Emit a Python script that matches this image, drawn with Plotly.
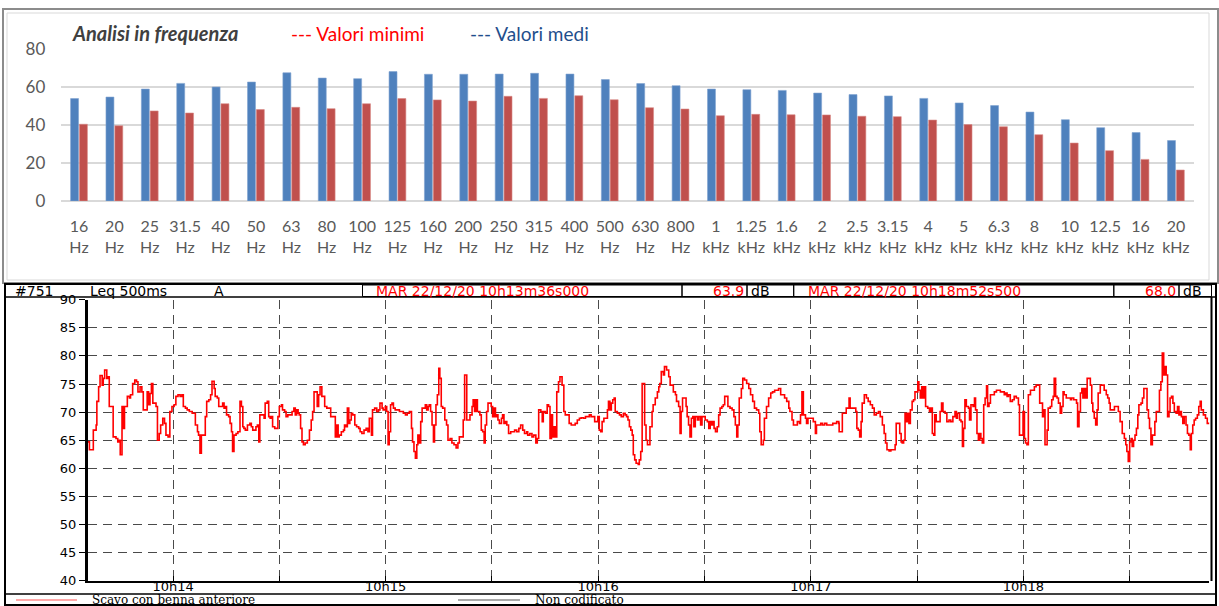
import plotly.graph_objects as go
from datetime import datetime, timedelta

# ---------------- data: frequency analysis ----------------
freq_values = ["16", "20", "25", "31.5", "40", "50", "63", "80", "100", "125", "160", "200",
               "250", "315", "400", "500", "630", "800", "1", "1.25", "1.6", "2", "2.5", "3.15",
               "4", "5", "6.3", "8", "10", "12.5", "16", "20"]
freq_units = ["Hz"] * 18 + ["kHz"] * 14
valori_medi = [53.9, 54.7, 58.9, 61.9, 60.0, 62.6, 67.5, 64.7, 64.4, 68.1, 66.7, 66.7,
               66.8, 67.2, 66.8, 63.9, 61.8, 60.7, 58.9, 58.6, 58.2, 56.8, 56.0, 55.3,
               54.0, 51.6, 50.2, 46.8, 42.8, 38.6, 36.0, 31.8]
valori_minimi = [40.4, 39.6, 47.4, 46.3, 51.2, 48.1, 49.3, 48.6, 51.2, 53.9, 53.2, 52.6,
                 55.1, 54.0, 55.4, 53.3, 49.1, 48.4, 44.9, 45.6, 45.4, 45.3, 44.6, 44.4,
                 42.6, 40.2, 39.1, 34.9, 30.5, 26.5, 21.9, 16.3]
y_ticks_top = [0, 20, 40, 60, 80]

# ---------------- data: Leq 500ms time history ----------------
start_time = "2020-12-22 10:13:36"
duration_s = 316.5
t_sec = [
    0.0, 0.4, 1.3, 1.5, 2.3, 2.5, 3.0, 3.4, 4.0, 4.3, 4.7, 5.3, 5.6, 6.0, 6.8, 7.1, 7.9, 8.4, 8.8, 9.1,
    9.6, 10.0, 10.3, 10.7, 11.1, 11.7, 12.0, 12.6, 13.2, 13.7, 14.1, 14.7, 15.2, 15.6, 16.2, 16.7, 17.1,
    17.5, 17.9, 18.3, 18.8, 19.2, 19.6, 20.1, 20.5, 21.1, 21.6, 22.0, 22.6, 23.1, 23.7, 24.3, 24.8, 25.4,
    26.0, 26.5, 26.9, 27.5, 28.0, 28.6, 29.4, 29.7, 30.3, 30.9, 31.2, 31.6, 32.0, 32.5, 33.1, 33.5, 34.1,
    34.6, 35.0, 35.6, 35.9, 36.5, 36.9, 37.4, 38.0, 38.4, 38.8, 39.1, 39.7, 40.1, 40.5, 40.8, 41.2, 41.8,
    42.3, 42.9, 43.3, 43.7, 44.0, 44.4, 45.0, 45.3, 45.7, 46.1, 46.5, 47.0, 47.4, 47.8, 48.2, 48.5, 49.1,
    49.7, 50.0, 50.6, 51.0, 51.4, 51.7, 52.1, 52.7, 53.2, 53.6, 54.0, 54.6, 54.9, 55.5, 55.9, 56.4, 57.0,
    57.6, 58.1, 58.5, 58.9, 59.3, 59.6, 60.0, 60.4, 60.8, 61.3, 61.9, 62.5, 63.0, 63.4, 63.8, 64.3, 64.7,
    65.1, 65.5, 66.0, 66.4, 66.8, 67.4, 67.9, 68.5, 69.1, 69.4, 69.8, 70.2, 70.6, 70.9, 71.5, 72.1, 72.4,
    72.8, 73.2, 73.6, 73.9, 74.3, 74.7, 75.3, 75.8, 76.4, 76.8, 77.3, 77.9, 78.5, 79.0, 79.4, 80.0, 80.3,
    80.9, 81.5, 82.0, 82.4, 83.0, 83.3, 83.9, 84.3, 84.7, 85.0, 85.4, 85.8, 86.2, 86.7, 87.3, 87.9, 88.4,
    89.0, 89.6, 90.1, 90.7, 91.3, 91.6, 92.0, 92.4, 92.8, 93.1, 93.5, 93.9, 94.3, 94.8, 95.2, 95.6, 96.0,
    96.3, 96.7, 97.1, 97.5, 97.8, 98.2, 98.6, 99.0, 99.3, 99.7, 100.1, 100.7, 101.2, 101.6, 102.2, 102.7,
    103.3, 103.9, 104.4, 104.8, 105.4, 105.9, 106.3,
    106.9, 107.4, 107.8, 108.4, 108.7, 109.1, 109.5, 109.9, 110.3, 110.6, 111.0, 111.4, 111.8, 112.1,
    112.5, 112.9, 113.5, 113.8, 114.2, 114.6, 115.0, 115.3, 115.7, 116.1, 116.7, 117.0, 117.4, 117.8,
    118.2, 118.7, 119.3, 119.9, 120.4, 121.0, 121.6, 122.1, 122.7, 123.2, 123.8, 124.1, 124.7, 125.3,
    125.8, 126.4, 126.8, 127.2, 127.8, 128.2, 128.5, 129.1, 129.6, 130.0, 130.4, 130.8, 131.1, 131.5,
    131.9, 132.3, 132.8, 133.2, 133.8, 134.3, 134.7, 135.3, 135.8, 136.4, 137.0, 137.5, 138.1, 138.7,
    139.2, 139.8, 140.4, 140.9, 141.5, 142.0, 142.6, 143.0, 143.6, 143.9, 144.3, 144.7, 145.1, 145.6,
    146.2, 146.6, 146.9, 147.3, 147.7, 148.1, 148.5, 148.8, 149.4, 150.0, 150.5, 151.1, 151.6, 152.0,
    152.4, 152.8, 153.2, 153.6, 153.9, 154.3, 154.7, 155.3, 155.6, 156.0, 156.4, 156.7, 157.1, 157.5,
    157.9, 158.3, 158.6, 159.2, 159.5, 160.1, 160.7, 161.1, 161.4, 161.8, 162.4, 162.7, 163.3, 163.9,
    164.3, 164.8, 165.2, 165.8, 166.1, 166.7, 167.1, 167.4, 167.8, 168.4, 168.8, 169.1, 169.5, 169.9,
    170.3, 170.7, 171.0, 171.4, 172.0, 172.4, 172.9, 173.3, 173.9, 174.2, 174.8, 175.2, 175.6, 175.9,
    176.3, 176.7, 177.1, 177.6, 178.0, 178.4, 178.9, 179.3, 179.7, 180.3, 180.6, 181.2, 181.8, 182.3,
    182.7, 183.1, 183.4, 183.8, 184.4, 184.8, 185.3, 185.9, 186.5, 187.0, 187.6, 188.1, 188.7, 189.3,
    189.6, 190.0, 190.6, 190.9, 191.5, 192.1, 192.7, 193.2, 193.8, 194.4, 194.9, 195.5, 196.1, 196.6,
    197.2, 197.8, 198.1, 198.7, 199.1, 199.6, 200.2, 200.8, 201.1, 201.5, 201.9, 202.5, 202.8, 203.2,
    203.8, 204.3, 204.7, 205.3, 205.6, 206.2, 206.8, 207.3, 207.9, 208.5, 209.0, 209.6, 210.2, 210.7,
    211.3, 211.9,
    212.0, 212.5, 212.9, 213.5, 214.0, 214.4, 214.8, 215.1, 215.7, 216.3, 216.7, 217.0, 217.4, 217.8,
    218.2, 218.5, 219.1, 219.7, 220.2, 220.8, 221.4, 221.9, 222.5, 223.1, 223.6, 224.2, 224.7, 225.1,
    225.5, 226.1, 226.6, 227.2, 227.8, 228.1, 228.5, 229.1, 229.5, 229.8, 230.2, 230.6, 231.0, 231.3,
    231.7, 232.1, 232.6, 233.0, 233.4, 233.8, 234.2, 234.5, 234.9, 235.3, 235.7, 236.0, 236.4, 237.0,
    237.5, 237.9, 238.3, 238.7, 239.0, 239.4, 240.0, 240.5, 240.9, 241.3, 241.9, 242.4, 243.0, 243.5,
    244.1, 244.7, 245.1, 245.4, 246.0, 246.4, 246.8, 247.1, 247.5, 247.9, 248.5, 248.8, 249.2, 249.8,
    250.2, 250.5, 250.9, 251.3, 251.7, 252.0, 252.4, 252.8, 253.2, 253.6, 253.9, 254.3, 254.7, 255.2,
    255.8, 256.4, 256.9, 257.5, 258.0, 258.6, 259.0, 259.4, 259.8, 260.3, 260.9, 261.4, 262.0, 262.6,
    262.9, 263.5, 263.9, 264.3, 264.6, 265.0, 265.4, 266.0, 266.5, 267.1, 267.6, 268.2, 268.6, 269.0,
    269.4, 269.7, 270.1, 270.7, 271.0, 271.6, 272.0, 272.4, 272.7, 273.1, 273.5, 273.9, 274.4, 274.8,
    275.2, 275.5, 276.1, 276.7, 277.3, 277.6, 278.2, 278.6, 279.0, 279.3, 279.7, 280.1, 280.5, 280.8,
    281.2, 281.6, 282.0, 282.5, 282.9, 283.3, 283.6, 284.0, 284.4, 284.8, 285.1, 285.7, 286.3, 286.8,
    287.4, 287.8, 288.2, 288.5, 289.1, 289.7, 290.2, 290.8, 291.3, 291.9, 292.5, 292.9, 293.2, 293.6,
    294.0, 294.4, 294.7, 295.1, 295.5, 295.9, 296.3, 296.6, 297.2, 297.6, 298.0, 298.5, 298.9, 299.3,
    299.6, 300.0, 300.4, 300.8, 301.1, 301.5, 302.1, 302.4, 302.8, 303.2, 303.6, 303.9, 304.3, 304.7,
    305.1, 305.4, 305.8, 306.2, 306.6, 307.1, 307.5, 307.9, 308.2, 308.6, 309.0, 309.4, 309.9, 310.3,
    310.7, 311.1, 311.4, 311.8, 312.2, 312.6, 313.1, 313.5, 313.9, 314.2, 314.8, 315.4, 315.9, 316.5,
]
leq_db = [
    64.7, 63.3, 63.3, 66.8, 67.7, 71.9, 74.5, 76.5, 74.8, 76.0, 77.5, 76.0, 76.3, 71.0, 71.0, 65.6, 65.3, 64.7, 65.0, 62.4,
    71.0, 67.1, 71.0, 71.0, 72.8, 72.5, 73.1, 75.1, 75.7, 75.4, 73.6, 74.5, 73.6, 70.4, 70.4, 73.6, 71.3,
    73.3, 75.1, 71.6, 71.6, 71.0, 65.0, 66.2, 67.7, 68.9, 68.0, 65.9, 65.6, 70.1, 71.0, 71.3, 72.8, 73.1,
    72.8, 73.1, 71.0, 70.7, 70.4, 70.1, 69.8, 69.8, 67.7, 66.5, 65.9, 62.7, 65.9, 65.9, 69.2, 71.9, 72.2,
    73.1, 75.5, 74.2, 72.8, 72.5, 71.0, 71.0, 71.6, 70.7, 71.0, 69.5, 69.2, 68.0, 66.5, 63.0, 65.9, 66.2,
    66.5, 71.9, 71.0, 67.4, 67.1, 66.8, 67.7, 67.7, 68.0, 67.4, 66.8, 66.8, 67.4, 67.7, 64.7, 69.5, 69.5,
    68.9, 71.6, 71.9, 69.2, 68.9, 69.2, 67.4, 67.1, 67.1, 69.2, 71.0, 71.3, 70.4, 70.1, 69.2, 69.5, 69.5,
    70.1, 70.7, 69.5, 70.4, 69.8, 69.5, 67.1, 64.7, 64.2, 64.5, 65.0, 66.8, 68.6, 70.1, 73.6, 73.6, 71.0,
    73.1, 74.5, 72.8, 72.8, 71.0, 70.7, 70.7, 69.2, 69.2, 69.2, 65.6, 67.7, 65.6, 65.9, 66.5, 66.8, 67.7,
    67.4, 70.7, 68.0, 68.6, 69.8, 69.5, 67.7, 67.4, 67.1, 66.5, 66.2, 66.8, 67.1, 66.5, 68.9, 65.9, 70.4,
    70.7, 70.1, 70.4, 71.6, 70.7, 70.4, 71.0, 70.1, 64.2, 66.5, 71.3, 71.6, 70.7, 70.4, 70.4, 70.1, 70.1,
    69.8, 69.5, 69.8, 70.1, 67.1, 64.7, 63.0, 61.8, 64.2, 65.9, 64.5, 68.3, 70.7, 70.7, 71.3, 70.4, 71.0,
    71.3, 70.1, 67.7, 64.7, 67.7, 71.3, 73.1, 77.8, 76.0, 71.0, 70.7, 68.6, 67.7, 65.0, 65.3, 64.5,
    64.2, 63.6, 64.5, 65.6, 65.6, 68.6, 76.6,
    68.6, 68.6, 69.5, 71.0, 72.2, 70.1, 72.2, 70.1, 70.1, 69.5, 66.8, 66.5, 64.5, 67.7,
    70.1, 71.6, 71.6, 71.0, 69.2, 70.7, 69.2, 69.5, 68.6, 68.0, 68.9, 69.5, 68.0, 68.3,
    67.7, 66.2, 66.5, 66.5, 66.8, 66.5, 67.1, 67.7, 66.8, 66.2, 66.5, 65.9, 66.2, 65.6,
    65.9, 64.5, 65.3, 70.4, 70.1, 68.3, 70.1, 69.8, 71.3, 71.0, 65.3, 69.5, 65.6, 67.4,
    65.6, 73.6, 75.4, 76.3, 74.8, 70.1, 69.5, 69.5, 68.0, 67.7, 67.7, 68.0, 68.6, 68.9,
    69.0, 68.9, 69.2, 69.2, 69.5, 69.2, 69.2, 68.3, 68.3, 69.2, 66.8, 66.5, 68.3, 68.9,
    68.9, 70.4, 71.9, 70.4, 71.6, 72.2, 72.5, 70.1, 69.8, 69.5, 69.2, 69.8, 69.5, 69.2,
    68.6, 67.4, 66.8, 65.9, 62.4, 61.5, 60.9, 60.7, 61.5, 63.0, 75.1, 75.1, 67.7, 65.0,
    64.2, 64.2, 67.4, 70.1, 71.3, 72.5, 73.6, 74.5, 75.1, 77.2, 76.6, 78.1, 77.5, 76.3,
    74.8, 74.8, 73.6, 73.1, 71.9, 71.0, 66.2, 70.1, 72.5, 72.5, 71.0, 69.2, 67.7, 65.6,
    68.9, 69.2, 67.4, 69.2, 68.6, 69.2, 67.7, 69.2, 69.2, 68.6, 68.3, 67.1, 68.3, 67.7,
    68.3, 67.1, 66.5, 67.4, 69.5, 70.7, 71.0, 71.3, 72.8, 72.8, 71.0, 70.7, 70.4, 69.2,
    67.7, 65.6, 67.7, 72.5, 74.2, 76.0, 75.7, 75.1, 74.2, 73.1, 71.9, 70.7, 70.4, 69.8,
    66.5, 64.2, 65.0, 68.9, 71.0, 72.5, 73.4, 73.6, 73.9, 73.9, 74.2, 73.1, 73.1, 72.5,
    71.9, 70.7, 70.1, 68.6, 67.7, 67.7, 68.3, 68.0, 69.5, 73.6, 69.5, 68.9, 68.0, 68.9,
    68.9, 68.9, 68.3, 66.2, 67.7, 67.7, 68.0, 67.7, 68.0, 67.7, 67.7, 67.7, 68.0, 68.0,
    68.3, 68.0,
    66.5, 66.5, 69.8, 69.8, 70.7, 70.7, 72.5, 70.7, 70.7, 70.7, 70.1, 67.1, 66.8, 65.6,
    68.3, 71.6, 73.1, 72.5, 71.9, 71.3, 70.7, 69.5, 69.8, 70.1, 69.2, 67.7, 66.2, 64.5,
    63.3, 63.1, 63.3, 63.3, 64.2, 68.0, 68.0, 66.2, 64.7, 64.5, 65.0, 69.8, 68.3, 69.8,
    68.0, 70.4, 71.9, 72.2, 73.6, 73.6, 75.4, 73.9, 72.5, 74.5, 72.5, 74.5, 71.0, 70.7,
    70.1, 70.7, 66.2, 65.9, 69.5, 68.3, 68.3, 70.1, 71.6, 70.1, 69.8, 68.3, 68.6, 68.3,
    69.2, 70.1, 68.9, 69.8, 68.6, 68.3, 63.9, 67.1, 72.2, 71.0, 70.7, 68.6, 71.3, 71.0,
    72.5, 70.4, 66.2, 65.0, 66.2, 65.3, 64.5, 71.3, 72.5, 74.7, 71.0, 71.6, 73.1, 73.1,
    73.6, 73.9, 73.9, 73.6, 73.6, 73.1, 73.4, 72.8, 73.1, 71.9, 72.2, 72.8, 72.5, 71.3,
    65.9, 65.9, 70.1, 65.3, 64.5, 64.2, 73.1, 73.9, 73.9, 74.5, 74.8, 74.8, 71.6, 71.6,
    69.2, 70.4, 64.2, 66.8, 70.7, 71.0, 72.2, 72.8, 76.0, 72.8, 72.5, 71.6, 69.8, 71.0,
    73.6, 73.1, 72.5, 72.5, 72.2, 72.5, 72.2, 72.2, 71.6, 67.4, 70.1, 73.4, 74.2, 72.5,
    74.2, 72.5, 76.0, 76.0, 74.8, 71.6, 70.1, 68.9, 67.7, 70.4, 73.4, 74.8, 74.8, 73.9,
    73.1, 72.5, 71.6, 70.4, 70.4, 71.0, 71.0, 70.1, 68.3, 66.2, 65.3, 64.2, 63.0, 61.2,
    64.7, 65.3, 63.9, 65.0, 65.9, 67.1, 69.5, 71.3, 71.6, 72.5, 74.2, 74.2, 70.4, 68.9,
    67.1, 64.2, 65.9, 65.9, 68.3, 70.1, 70.1, 73.9, 75.4, 80.5, 76.6, 78.1, 76.6, 69.2,
    70.1, 72.5, 72.8, 71.6, 70.1, 69.8, 71.0, 69.5, 70.1, 69.2, 68.0, 69.2, 67.7, 66.2,
    65.9, 63.3, 66.2, 67.7, 68.6, 68.9, 69.5, 71.0, 71.9, 70.4, 69.5, 68.9, 68.0, 68.0,
]
minute_labels = ["10h14", "", "10h15", "", "10h16", "", "10h17", "", "10h18", ""]
y_ticks_bottom = [40, 45, 50, 55, 60, 65, 70, 75, 80, 85, 90]

header_id = "#751"
header_meas = "Leq 500ms"
header_weight = "A"
header_start = "MAR 22/12/20 10h13m36s000"
header_start_val = "63.9"
header_end = "MAR 22/12/20 10h18m52s500"
header_end_val = "68.0"
legend_items = ["Scavo con benna anteriore", "Non codificato"]

# ---------------- layout helpers (pixel -> paper) ----------------
W, H = 1219, 606


def fx(p):
    return p / W


def fy(p):
    return 1 - p / H


cats = [f"{v}<br>{u}" for v, u in zip(freq_values, freq_units)]
t0 = datetime.strptime(start_time, "%Y-%m-%d %H:%M:%S")
times = [t0 + timedelta(seconds=s) for s in t_sec]
t_end = t0 + timedelta(seconds=duration_s)
first_min = t0.replace(second=0) + timedelta(minutes=1)
tick_times = [first_min + timedelta(seconds=30 * k) for k in range(len(minute_labels))]

fig = go.Figure()
fig.add_trace(go.Bar(x=cats, y=valori_medi, name="Valori medi", marker_color="#4F81BD",
                     marker_line=dict(color="#7FA3D0", width=0.6), xaxis="x", yaxis="y"))
fig.add_trace(go.Bar(x=cats, y=valori_minimi, name="Valori minimi", marker_color="#C0504D",
                     marker_line=dict(color="#D98987", width=0.6), xaxis="x", yaxis="y"))
fig.add_trace(go.Scatter(x=times, y=leq_db, mode="lines", name=legend_items[0],
                         line=dict(color="#FF0000", width=1.6, shape="hv"),
                         xaxis="x2", yaxis="y2"))

lato = "Lato, 'Open Sans', sans-serif"
dv = "'DejaVu Sans', sans-serif"
grid_col = "#4a4a4a"

fig.update_layout(
    width=W, height=H, margin=dict(l=0, r=0, t=0, b=0, autoexpand=False),
    paper_bgcolor="white", plot_bgcolor="white", showlegend=False,
    barmode="group", bargap=0.5, bargroupgap=0.1,
    xaxis=dict(domain=[fx(61.3), fx(1193.6)], anchor="y", type="category", automargin=False,
               showgrid=False, showline=False, ticks="",
               tickfont=dict(family=lato, size=16, color="#595959"),
               ticklabelstandoff=14),
    yaxis=dict(domain=[fy(201), fy(48.05)], anchor="x", range=[0, 80.5], automargin=False,
               tickvals=y_ticks_top, showgrid=True, gridcolor="#D9D9D9", gridwidth=1.6,
               zeroline=True, zerolinecolor="#D9D9D9", zerolinewidth=1.6,
               showline=False, ticks="",
               tickfont=dict(family=lato, size=17, color="#595959"),
               ticklabelstandoff=15),
    xaxis2=dict(domain=[fx(88), fx(1209.4)], anchor="y2", type="date", automargin=False,
                range=[t0, t_end], tickvals=tick_times, ticktext=minute_labels,
                showgrid=True, gridcolor=grid_col, gridwidth=1.2, griddash="9px,6px",
                showline=True, linecolor="black", linewidth=2,
                ticks="inside", ticklen=5, tickcolor="black",
                ticklabelstandoff=-7,
                tickfont=dict(family=dv, size=13, color="black")),
    yaxis2=dict(domain=[fy(580.7), fy(299.7)], anchor="x2", range=[40, 90], automargin=False,
                tickvals=y_ticks_bottom, showgrid=True, gridcolor=grid_col, gridwidth=1.2,
                griddash="9px,6px", zeroline=False,
                showline=True, linecolor="black", linewidth=3,
                ticks="outside", ticklen=6, tickcolor="black",
                tickfont=dict(family=dv, size=13, color="black")),
)

shapes = []


def rect(x0, y0, x1, y1, color="black", width=1, fill=None):
    d = dict(type="rect", xref="paper", yref="paper", x0=fx(x0), x1=fx(x1), y0=fy(y1), y1=fy(y0),
             line=dict(color=color, width=width), layer="above")
    if fill:
        d["fillcolor"] = fill
    shapes.append(d)


def line(x0, y0, x1, y1, color="black", width=1):
    shapes.append(dict(type="line", xref="paper", yref="paper", x0=fx(x0), x1=fx(x1),
                       y0=fy(y0), y1=fy(y1), line=dict(color=color, width=width), layer="above"))


# top panel frames
rect(3, 9, 1218, 283, color="#8C8C8C", width=2)
rect(7, 13, 1209, 280, color="#D9D9D9", width=1)
# bottom panel frame
rect(5, 284, 1216, 605, color="black", width=2)
line(5, 297, 1216, 297, width=1.5)
line(5, 594, 1216, 594, width=1.5)
line(1211.5, 297, 1211.5, 581, width=2)
# header cells
rect(362.5, 285, 682, 296.5, width=1)
rect(682, 285, 747, 296.5, width=1)
rect(747, 285, 793.7, 296.5, width=1)
rect(793.7, 285, 1113.8, 296.5, width=1)
rect(1113.8, 285, 1179, 296.5, width=1)
rect(1179, 285, 1211.5, 296.5, width=1)
# legend samples
line(16, 600, 77, 600, color="#FF8C8C", width=1.5)
line(458, 600, 520, 600, color="#8C8C8C", width=1.5)
fig.update_layout(shapes=shapes)

anns = []


def text(s, x, y, anchor="left", size=14, color="black", family=dv):
    anns.append(dict(text=s, xref="paper", yref="paper", x=fx(x), y=fy(y), xanchor=anchor,
                     yanchor="middle", showarrow=False,
                     font=dict(family=family, size=size, color=color)))


text("<b><i>Analisi in frequenza</i></b>", 70, 33, size=20, color="#404040", family=lato)
text("--- Valori minimi", 289, 33, size=19, color="#FF0000", family=lato)
text("--- Valori medi", 468, 33, size=19, color="#1F4E8C", family=lato)

hy = 291
text(header_id, 13, hy, size=14)
text(header_meas, 88, hy, size=14)
text(header_weight, 212, hy, size=14)
text(header_start, 374, hy, size=14, color="#FF0000")
text(header_start_val, 746, hy, anchor="right", size=14, color="#FF0000")
text("dB", 749, hy, size=14)
text(header_end, 806, hy, size=14, color="#FF0000")
text(header_end_val, 1178, hy, anchor="right", size=14, color="#FF0000")
text("dB", 1181, hy, size=14)

serif = "'DejaVu Serif', 'Liberation Serif', serif"
text(legend_items[0], 90, 599.5, size=12, family=serif)
text(legend_items[1], 533, 599.5, size=12, family=serif)
fig.update_layout(annotations=anns)

fig.write_html("out.html", config={"displayModeBar": False},
               post_script="document.body.style.margin='0';document.body.style.overflow='hidden';")
